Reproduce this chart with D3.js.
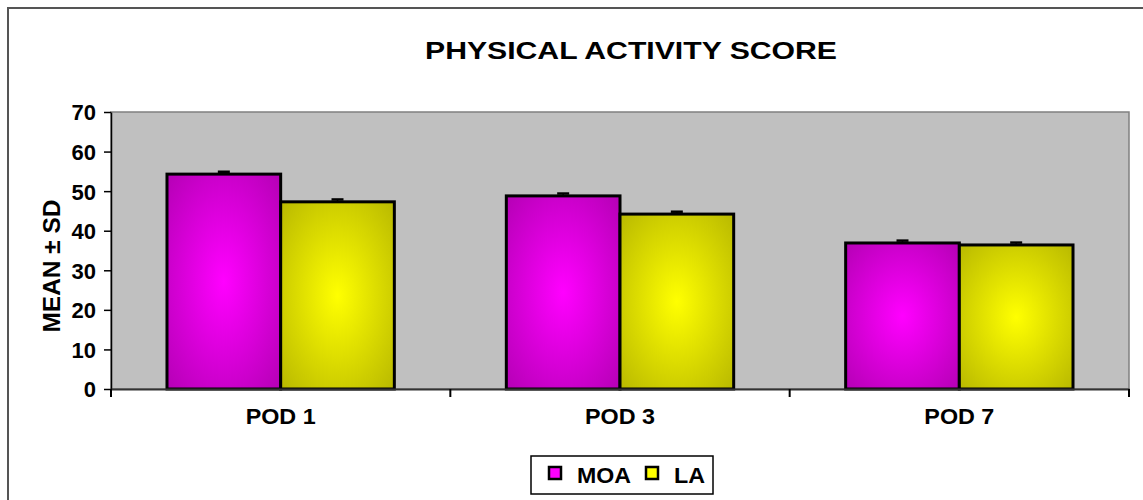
<!DOCTYPE html>
<meta charset="utf-8">
<body style="margin:0;background:#fff">
<script src="https://d3js.org/d3.v7.min.js"></script>
<script>

// data
var categories = ["POD 1", "POD 3", "POD 7"];
var seriesNames = ["MOA", "LA"];
var moaMean = [54.3, 48.8, 36.9];
var laMean  = [47.3, 44.2, 36.4];
var moaSD   = [0.6, 0.6, 0.6];
var laSD    = [0.6, 0.6, 0.6];
var yTicks  = [0, 10, 20, 30, 40, 50, 60, 70];

var colors = {MOA: ["#ff00ff", "#b000b0"], LA: ["#ffff00", "#b4b400"]};

var W = 1143, H = 500;
var plot = {left: 111, top: 112, right: 1129, bottom: 389};
var FONT = "'Liberation Sans', Arial, sans-serif";

var svg = d3.select("body").append("svg")
    .attr("width", W).attr("height", H)
    .style("font-family", FONT);

// gradients for the bars
var defs = svg.append("defs");
seriesNames.forEach(function(s) {
  var g = defs.append("radialGradient").attr("id", "grad" + s)
      .attr("cx", "50%").attr("cy", "50%").attr("r", "75%");
  g.append("stop").attr("offset", "0%").attr("stop-color", colors[s][0]);
  g.append("stop").attr("offset", "100%").attr("stop-color", colors[s][1]);
});

// outer frame
svg.append("rect")
   .attr("x", 8).attr("y", 8).attr("width", W).attr("height", H)
   .attr("fill", "#fff").attr("stroke", "#555").attr("stroke-width", 2);

var x = d3.scaleBand().domain(categories).range([plot.left, plot.right]);
var y = d3.scaleLinear().domain([0, 70]).range([plot.bottom, plot.top]);

// plot background
svg.append("rect")
   .attr("x", plot.left).attr("y", plot.top)
   .attr("width", plot.right - plot.left).attr("height", plot.bottom - plot.top)
   .attr("fill", "#c0c0c0").attr("stroke", "#808080").attr("stroke-width", 1.5);

var flat = [];
categories.forEach(function(c, i) {
  flat.push({cat: c, s: "MOA", v: moaMean[i], sd: moaSD[i]});
  flat.push({cat: c, s: "LA", v: laMean[i], sd: laSD[i]});
});

// bars
var inner = x.bandwidth() * 0.67;
var off = (x.bandwidth() - inner) / 2;
var bw = inner / 2;
function bx(d) { return x(d.cat) + off + seriesNames.indexOf(d.s) * bw; }

svg.selectAll(".bar").data(flat).enter().append("rect")
   .attr("class", "bar")
   .attr("x", bx)
   .attr("y", function(d) { return y(d.v); })
   .attr("width", bw)
   .attr("height", function(d) { return y(0) - y(d.v); })
   .attr("fill", function(d) { return "url(#grad" + d.s + ")"; })
   .attr("stroke", "#000").attr("stroke-width", 3);

// error bars
svg.selectAll(".err").data(flat).enter().append("line")
   .attr("x1", function(d) { return bx(d) + bw / 2; })
   .attr("x2", function(d) { return bx(d) + bw / 2; })
   .attr("y1", function(d) { return y(d.v); })
   .attr("y2", function(d) { return y(d.v + d.sd); })
   .attr("stroke", "#000").attr("stroke-width", 1.5);
svg.selectAll(".cap").data(flat).enter().append("line")
   .attr("x1", function(d) { return bx(d) + bw / 2 - 6; })
   .attr("x2", function(d) { return bx(d) + bw / 2 + 6; })
   .attr("y1", function(d) { return y(d.v + d.sd); })
   .attr("y2", function(d) { return y(d.v + d.sd); })
   .attr("stroke", "#000").attr("stroke-width", 2.5);

// y axis
var yAxis = svg.append("g")
   .attr("transform", "translate(" + plot.left + ",0)")
   .call(d3.axisLeft(y).tickValues(yTicks).tickSize(7).tickSizeOuter(0));
yAxis.select(".domain").attr("stroke", "#000").attr("stroke-width", 1.5);
yAxis.selectAll(".tick line").attr("stroke", "#000").attr("stroke-width", 1.5);
yAxis.selectAll("text").attr("x", -15).attr("dy", "0.36em")
   .style("font-size", "22px").style("font-weight", "bold").attr("fill", "#000")
   .style("font-family", FONT);

// x axis
var xAxis = svg.append("g")
   .attr("transform", "translate(0," + plot.bottom + ")")
   .call(d3.axisBottom(x).tickSize(0).tickSizeOuter(0));
xAxis.select(".domain").attr("stroke", "#333").attr("stroke-width", 2);
xAxis.selectAll("text").attr("y", 35).attr("dy", 0)
   .style("font-size", "22px").style("font-weight", "bold").attr("fill", "#000")
   .style("font-family", FONT)
   .attr("textLength", 70).attr("lengthAdjust", "spacingAndGlyphs");
// separator ticks between categories
svg.selectAll(".sep").data(d3.range(0, categories.length + 1)).enter().append("line")
   .attr("x1", function(i) { return plot.left + i * x.step(); })
   .attr("x2", function(i) { return plot.left + i * x.step(); })
   .attr("y1", plot.bottom).attr("y2", plot.bottom + 8)
   .attr("stroke", "#000").attr("stroke-width", 2);

// axis title
svg.append("text")
   .attr("transform", "translate(60,266) rotate(-90)")
   .attr("text-anchor", "middle")
   .style("font-size", "23px").style("font-weight", "bold")
   .attr("textLength", 133).attr("lengthAdjust", "spacingAndGlyphs")
   .text("MEAN ± SD");

// chart title
svg.append("text")
   .attr("x", 631).attr("y", 59)
   .attr("text-anchor", "middle")
   .style("font-size", "24px").style("font-weight", "bold")
   .attr("textLength", 412).attr("lengthAdjust", "spacingAndGlyphs")
   .text("PHYSICAL ACTIVITY SCORE");

// legend
var lg = svg.append("g");
lg.append("rect").attr("x", 531).attr("y", 456).attr("width", 182).attr("height", 38)
  .attr("fill", "#fff").attr("stroke", "#000").attr("stroke-width", 1.5);
var legX = [549, 646];
var legW = [54, 31];
seriesNames.forEach(function(s, i) {
  lg.append("rect").attr("x", legX[i]).attr("y", 467).attr("width", 12).attr("height", 12)
    .attr("fill", colors[s][0]).attr("stroke", "#000").attr("stroke-width", 2.5);
  lg.append("text").attr("x", legX[i] + 28).attr("y", 483)
    .style("font-size", "22px").style("font-weight", "bold")
    .attr("textLength", legW[i]).attr("lengthAdjust", "spacingAndGlyphs")
    .text(s);
});

</script>
</body>
</html>
